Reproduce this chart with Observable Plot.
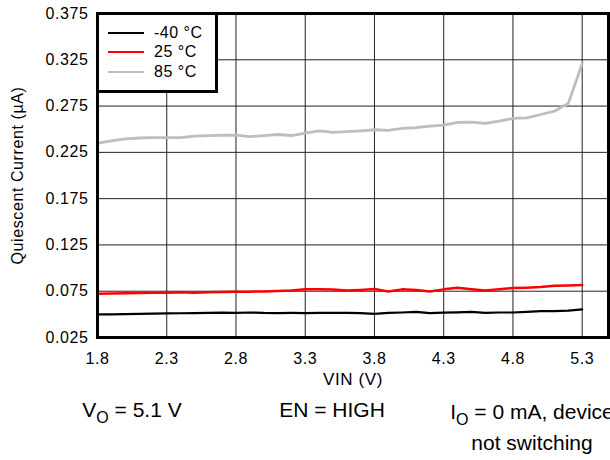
<!DOCTYPE html>
<html><head><meta charset="utf-8">
<script src="https://cdn.jsdelivr.net/npm/d3@7"></script>
<script src="https://cdn.jsdelivr.net/npm/@observablehq/plot@0.6"></script>
<style>
body{margin:0;overflow:hidden;background:#fff;font-family:"Liberation Sans",Arial,sans-serif;color:#000;}
#wrap{position:relative;width:610px;height:460px;overflow:hidden;}
#legend{position:absolute;left:96px;top:12px;width:122px;height:81px;box-sizing:border-box;border:3px solid #000;background:#fff;}
.li{position:absolute;left:0;height:20px;width:116px;}
.li .sw{position:absolute;left:9px;width:36px;top:9px;height:0;border-top:2.5px solid #000;}
.li .tx{position:absolute;left:55px;top:0;font-size:16px;line-height:20px;letter-spacing:0.5px;white-space:nowrap;}
.ann{position:absolute;font-size:21px;white-space:nowrap;line-height:24px;transform:translate(-50%,-50%);}
.ann sub{font-size:16px;vertical-align:-6px;line-height:0;}
g[aria-label="x-axis label"] text{font-size:17px;}
g[aria-label="y-axis label"] text{font-size:16px;}
</style></head><body><div id="wrap"></div>
<script>
const vin = [1.8,1.9,2.0,2.1,2.2,2.3,2.4,2.5,2.6,2.7,2.8,2.9,3.0,3.1,3.2,3.3,3.4,3.5,3.6,3.7,3.8,3.9,4.0,4.1,4.2,4.3,4.4,4.5,4.6,4.7,4.8,4.9,5.0,5.1,5.2,5.3];
const iqM40 = [0.0499,0.0500,0.0502,0.0505,0.0508,0.0510,0.0512,0.0513,0.0515,0.0518,0.0517,0.0520,0.0515,0.0514,0.0515,0.0513,0.0515,0.0517,0.0516,0.0513,0.0506,0.0515,0.0520,0.0527,0.0513,0.0518,0.0522,0.0527,0.0517,0.0520,0.0520,0.0527,0.0535,0.0535,0.0540,0.0553];
const iq25 = [0.0723,0.0726,0.0729,0.0731,0.0733,0.0734,0.0738,0.0734,0.0738,0.0742,0.0745,0.0745,0.0748,0.0752,0.0759,0.0770,0.0772,0.0768,0.0757,0.0764,0.0774,0.0748,0.0770,0.0762,0.0748,0.0770,0.0788,0.0772,0.0759,0.0770,0.0784,0.0788,0.0795,0.0809,0.0812,0.0816];
const iq85 = [0.2350,0.2375,0.2395,0.2405,0.2410,0.2410,0.2410,0.2425,0.2430,0.2435,0.2437,0.2420,0.2430,0.2443,0.2432,0.2457,0.2483,0.2465,0.2475,0.2483,0.2494,0.2487,0.2508,0.2516,0.2533,0.2544,0.2573,0.2576,0.2562,0.2587,0.2616,0.2623,0.2659,0.2695,0.2781,0.3207];
const seriesNames = ["-40 °C","25 °C","85 °C"];
const seriesColors = ["#000000","#ff0000","#bebebe"];
const xTicks = [1.8,2.3,2.8,3.3,3.8,4.3,4.8,5.3];
const yTicks = [0.025,0.075,0.125,0.175,0.225,0.275,0.325,0.375];
const xLabel = "VIN (V)";
const yLabel = "Quiescent Current (µA)";

const seriesValues = [iqM40, iq25, iq85];
const widths = [2.2, 2.5, 2.8];
const tables = seriesValues.map(arr => vin.map((v,i)=>({vin:v, iq:arr[i]})));

const chart = Plot.plot({
  width:610, height:390,
  marginLeft:97, marginRight:2, marginTop:13, marginBottom:53,
  style:{fontFamily:'"Liberation Sans", Arial, sans-serif', fontSize:"16px", color:"#000", background:"#fff", letterSpacing:"0.6px"},
  x:{domain:[1.8,5.49], ticks:xTicks, tickFormat:d=>d.toFixed(1), label:xLabel, labelAnchor:"center", labelArrow:"none", labelOffset:47, tickSize:0, tickPadding:15},
  y:{domain:[0.025,0.375], ticks:yTicks, tickFormat:d=>d.toFixed(3), label:yLabel, labelAnchor:"center", labelArrow:"none", labelOffset:86, tickSize:0, tickPadding:9},
  marks:[
    Plot.gridX(xTicks,{stroke:"#222", strokeOpacity:1, strokeWidth:1}),
    Plot.gridY(yTicks,{stroke:"#222", strokeOpacity:1, strokeWidth:1}),
    ...tables.map((t,k)=>Plot.line(t,{x:"vin", y:"iq", stroke:seriesColors[k], strokeWidth:widths[k]})).reverse(),
    Plot.frame({stroke:"#000", strokeWidth:3})
  ]
});
const wrap = document.getElementById("wrap");
wrap.appendChild(chart);
chart.style.position="absolute"; chart.style.left="0"; chart.style.top="0";

const lg = document.createElement("div"); lg.id="legend";
const ys = [8, 27, 47];
seriesNames.forEach((n,k)=>{
  const it = document.createElement("div"); it.className="li"; it.style.top=ys[k]+"px";
  const sw = document.createElement("div"); sw.className="sw"; sw.style.borderTopColor=seriesColors[k];
  const tx = document.createElement("div"); tx.className="tx"; tx.textContent=n;
  it.appendChild(sw); it.appendChild(tx); lg.appendChild(it);
});
wrap.appendChild(lg);

const anns = [
  {x:132, y:410, html:"V<sub>O</sub> = 5.1 V"},
  {x:332, y:410, html:"EN = HIGH"},
  {x:532, y:412, html:"I<sub>O</sub> = 0 mA, device"},
  {x:532, y:443, html:"not switching"}
];
anns.forEach(a=>{
  const d=document.createElement("div"); d.className="ann"; d.style.left=a.x+"px"; d.style.top=a.y+"px"; d.innerHTML=a.html; wrap.appendChild(d);
});
</script></body></html>
